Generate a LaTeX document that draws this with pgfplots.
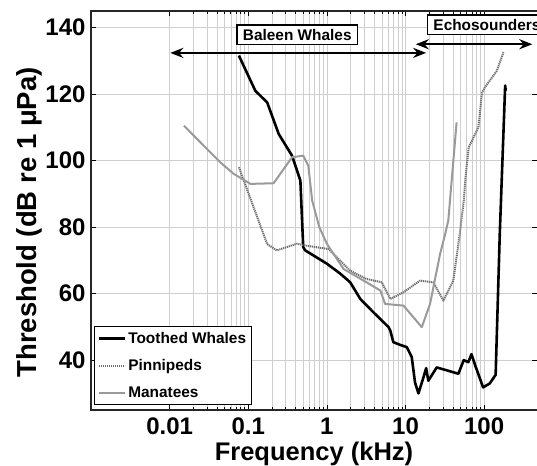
\documentclass[border=0pt]{standalone}
\usepackage{fontspec}
\setmainfont{Liberation Sans}
\usepackage{pgfplots}
\pgfplotsset{compat=1.18}
\usetikzlibrary{arrows.meta}
\definecolor{pinc}{HTML}{6E6E6E}
\definecolor{manc}{HTML}{9A9A9A}
\definecolor{gridc}{HTML}{CFCFCF}
\begin{document}
\begin{tikzpicture}
\begin{axis}[
  scale only axis, width=446pt, height=399pt,
  xmode=log, xmin=0.001, xmax=470, ymin=25, ymax=145,
  xtick={0.01,0.1,1,10,100}, xticklabels={0.01,0.1,1,10,100},
  ytick={40,60,80,100,120,140}, minor y tick num=0,
  grid=both,
  major grid style={gridc, line width=0.7pt},
  minor grid style={gridc, line width=0.6pt},
  axis line style={draw=none},
  tick align=inside,
  major tick length=5pt, minor tick length=3pt,
  tick style={black, line width=0.7pt},
  /pgf/number format/assume math mode=true,
  ticklabel style={font=\fontsize{24}{26}\selectfont\bfseries},
  xticklabel style={yshift=-4pt},
  yticklabel style={xshift=-2pt},
  xlabel={Frequency (kHz)},
  ylabel={Threshold (dB re 1 μPa)},
  xlabel style={font=\fontsize{25.5}{27}\selectfont\bfseries, yshift=-1pt},
  ylabel style={font=\fontsize{27.5}{29}\selectfont\bfseries, yshift=-4pt, at={(ticklabel cs:0.47)}},
  clip=false,
  legend cell align=left,
  legend style={at={(rel axis cs:0.007,0.012)}, anchor=south west,
    font=\fontsize{15.4}{17}\selectfont\bfseries, draw=black, line width=1.2pt,
    row sep=10.5pt, inner xsep=3pt, inner ysep=4pt},
  legend image code/.code={\draw[#1] (0pt,0pt) -- (26pt,0pt);},
]
\draw[line width=1.3pt, black!85] (rel axis cs:1,0) -- (rel axis cs:0,0) -- (rel axis cs:0,1) -- (rel axis cs:1,1);

\addplot[black, line width=2.6pt, line join=round] coordinates {
(0.076,131.6) (0.123,121) (0.174,117.5) (0.244,108) (0.36,101.5) (0.46,94)
(0.50,74) (0.53,73) (1.0,69) (1.48,66) (1.98,63.4) (2.66,58.4) (3.9,54.4)
(6.1,49.9) (6.4,48.9) (7.0,45.4) (8.5,44.6) (10.4,43.9) (12.0,40.9) (13.2,33.3)
(14.6,30) (16.9,34.8) (18.3,37.6) (19.5,33.8) (24.9,37.8) (35,36.8) (47,35.9)
(55,40) (63,39.4) (69,41.8) (77,38.4) (97,31.8) (118,33) (140,35.6)
(158,78) (185,122.6) (188,121)
};
\addlegendentry{Toothed Whales}

\addplot[pinc, line width=2pt, dash pattern=on 1.2pt off 0.8pt, line join=round] coordinates {
(0.076,98) (0.174,74.9) (0.23,73) (0.415,75) (0.56,74.4) (1.05,73.4) (1.34,70.9)
(1.98,66.9) (3.2,64.4) (5.0,63.4) (6.4,58.4) (9.4,60.4) (15.3,63.9) (22.6,63.4)
(30.3,57.9) (40.5,63.9) (49,78) (55,88) (58,95) (63.6,104) (84.5,110) (94,120.5)
(102,122) (145,127) (176,132.6)
};
\addlegendentry{Pinnipeds}

\addplot[manc, line width=2pt, line join=round] coordinates {
(0.0152,110.5) (0.044,99.5) (0.0655,96) (0.107,93) (0.21,93.2) (0.36,101)
(0.50,101.5) (0.58,98.5) (0.65,88) (0.8,80) (1.0,75) (1.22,71.9) (1.63,67.4)
(3.2,63.4) (4.8,60.9) (5.5,56.9) (9.4,56.4) (12.6,52.9) (16.1,49.9) (20.5,56.9)
(27.5,71.9) (32,78) (35,82) (44.6,111.5)
};
\addlegendentry{Manatees}

\draw[line width=2.4pt, {Stealth[length=13pt,width=10pt]}-{Stealth[length=13pt,width=10pt]}]
  (axis cs:0.0102,132.4) -- (axis cs:18.3,132.4);
\draw[line width=2.4pt, {Stealth[length=13pt,width=10pt]}-{Stealth[length=13pt,width=10pt]}]
  (axis cs:13.5,135) -- (axis cs:410,135);
\node[draw=black, fill=white, line width=1.2pt, inner xsep=6pt, inner ysep=4pt,
  font=\fontsize{15.4}{17}\selectfont\bfseries] at (axis cs:0.42,137.9) {Baleen Whales};
\node[draw=black, fill=white, line width=1.2pt, inner xsep=6pt, inner ysep=4pt, anchor=west,
  font=\fontsize{15.4}{17}\selectfont\bfseries] at (axis cs:18.7,140.9) {Echosounders};
\end{axis}
\pgfresetboundingbox
\path ([shift={(-91pt,-55pt)}]current axis.south west) rectangle ([shift={(0pt,11pt)}]current axis.north east);
\end{tikzpicture}
\end{document}
